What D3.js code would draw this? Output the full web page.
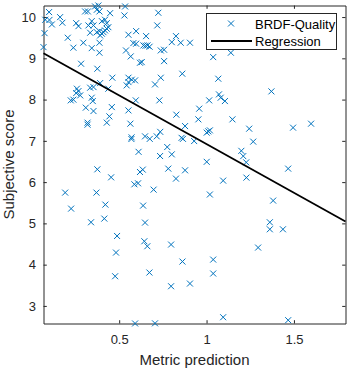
<!DOCTYPE html>
<html><head><meta charset="utf-8">
<script src="https://cdn.jsdelivr.net/npm/d3@7"></script>
<style>body{margin:0;background:#fff}svg{display:block}</style>
</head><body><svg id="c" width="351" height="370"></svg>
<script>
const metric = [
0.099,0.077,0.101,0.115,0.073,0.067,0.162,0.175,0.254,0.267,0.206,0.238,0.282,0.295,0.305,0.321,0.324,0.334,0.343,0.343,0.362,0.381,0.372,0.387,0.353,0.401,0.419,0.429,0.448,0.372,0.387,0.401,0.410,0.419,0.429,0.438,0.391,0.387,0.387,0.375,0.534,0.530,0.553,0.597,0.581,0.597,0.539,0.566,0.619,0.654,0.639,0.651,0.662,0.674,0.629,
0.724,0.718,0.738,0.757,0.757,0.825,0.801,0.852,0.905,0.861,0.738,0.705,0.730,1.038,1.139,1.067,1.071,1.081,1.105,1.015,0.958,0.953,0.827,0.877,1.148,1.019,1.010,1.001,0.857,0.865,0.929,0.735,0.715,0.675,0.648,0.611,0.775,0.734,0.801,1.001,1.199,1.210,1.227,1.371,1.244,1.495,1.598,1.267,
0.461,0.553,0.572,0.591,0.543,0.553,0.391,0.353,0.334,0.258,0.267,0.254,0.277,0.238,0.223,0.343,0.349,0.438,0.309,0.353,0.458,0.595,0.553,0.319,0.319,0.444,0.429,0.564,0.571,0.570,
0.375,0.454,0.619,0.635,0.587,0.608,0.191,0.370,0.421,0.637,0.225,0.415,0.339,0.648,0.488,0.644,0.661,0.482,0.477,0.591,0.705,0.781,0.877,0.825,1.095,0.697,1.019,0.797,0.862,1.038,1.038,0.673,0.797,0.905,1.095,1.228,1.467,1.381,1.362,1.362,1.437,1.295,1.467
];
const subjective = [
10.12,9.935,9.93,9.821,9.61,9.271,9.998,9.862,9.852,9.78,9.499,9.257,8.869,9.378,10.136,10.136,9.797,9.62,9.901,9.247,10.257,10.28,10.177,10.136,9.797,9.901,9.935,9.852,10.094,9.634,9.659,9.596,9.634,9.676,9.717,9.755,9.554,9.378,9.136,8.748,10.257,10.039,9.571,9.659,9.368,9.354,9.191,9.046,8.893,9.538,9.312,9.305,9.312,9.281,8.908,
10.104,9.797,9.191,9.208,8.932,9.538,9.392,9.378,9.378,8.627,8.53,8.368,7.981,9.029,9.136,8.506,8.126,8.046,7.964,7.981,7.78,7.521,7.634,7.358,7.521,7.254,7.23,7.199,7.073,7.048,6.995,7.218,7.109,7.048,7.109,6.734,6.85,6.632,6.673,6.492,6.758,6.63,6.479,8.199,7.295,7.32,7.416,6.981,
8.53,8.53,8.482,8.465,8.344,8.424,8.4,8.303,8.288,8.264,8.206,8.157,8.102,7.998,7.981,8.046,7.964,8.264,7.804,7.722,7.818,7.981,7.738,7.441,7.392,7.593,7.441,7.416,7.085,7.044,
6.31,6.116,6.245,6.303,5.947,5.971,5.746,5.746,5.455,5.431,5.358,5.116,5.027,5.019,4.695,4.567,4.446,4.293,3.719,2.575,2.578,6.327,6.286,6.085,6.036,5.818,5.7,4.487,4.075,4.123,3.785,3.809,3.477,3.542,2.726,6.109,6.327,5.552,5.027,4.857,4.857,4.414,2.654
];
const xTicks = [0.5, 1, 1.5];
const yTicks = [3, 4, 5, 6, 7, 8, 9, 10];
const xDomain = [0.067, 1.795];
const yDomain = [2.574, 10.28];
const regCoef = [9.28, -2.36]; // intercept, slope
const legendLabels = ["BRDF-Quality", "Regression"];
const xLabel = "Metric prediction";
const yLabel = "Subjective score";

const blue = "#0072BD", ink = "#262626";
const font = "'Liberation Sans', Arial, Helvetica, sans-serif";
const L = 43.5, R = 345.5, T = 5.5, B = 323.5;
const svg = d3.select("#c");
const x = d3.scaleLinear().domain(xDomain).range([L, R]);
const y = d3.scaleLinear().domain(yDomain).range([B, T]);

// axes
function styleAxis(g) {
  g.selectAll("path.domain").attr("stroke", ink).attr("stroke-width", 1);
  g.selectAll(".tick line").attr("stroke", ink).attr("stroke-width", 1);
  g.selectAll("text").attr("fill", ink).style("font-family", font).style("font-size", "13px");
}
svg.append("g").attr("transform", `translate(0,${B})`)
  .call(d3.axisBottom(x).tickValues(xTicks).tickFormat(d3.format("~g")).tickSizeInner(-3.3).tickSizeOuter(0).tickPadding(11))
  .call(styleAxis);
svg.append("g").attr("transform", `translate(0,${T})`)
  .call(d3.axisTop(x).tickValues(xTicks).tickFormat("").tickSizeInner(-3.3).tickSizeOuter(0))
  .call(styleAxis);
svg.append("g").attr("transform", `translate(${L},0)`)
  .call(d3.axisLeft(y).tickValues(yTicks).tickSizeInner(-3.3).tickSizeOuter(0).tickPadding(7.5))
  .call(styleAxis);
svg.append("g").attr("transform", `translate(${R},0)`)
  .call(d3.axisRight(y).tickValues(yTicks).tickFormat("").tickSizeInner(-3.3).tickSizeOuter(0))
  .call(styleAxis);

// points
const cross = "M-3,-3L3,3M-3,3L3,-3";
svg.append("g").selectAll("path").data(metric.map((m, i) => [m, subjective[i]])).join("path")
  .attr("d", cross).attr("transform", d => `translate(${x(d[0])},${y(d[1])})`)
  .attr("stroke", blue).attr("stroke-width", 1).attr("fill", "none");

// regression line
const reg = xDomain.map(v => [v, regCoef[0] + regCoef[1] * v]);
svg.append("path").attr("d", d3.line().x(d => x(d[0])).y(d => y(d[1]))(reg))
  .attr("stroke", "#000").attr("stroke-width", 1.8).attr("fill", "none");

// labels
svg.append("text").attr("x", (L + R) / 2).attr("y", 365).attr("text-anchor", "middle")
  .style("font-family", font).style("font-size", "15px").attr("fill", ink).text(xLabel);
svg.append("text").attr("transform", `translate(13.5,${(T + B) / 2}) rotate(-90)`).attr("text-anchor", "middle")
  .style("font-family", font).style("font-size", "15px").attr("fill", ink).text(yLabel);

// legend
const lg = svg.append("g");
lg.append("rect").attr("x", 206.5).attr("y", 13.5).attr("width", 130).attr("height", 36)
  .attr("fill", "#fff").attr("stroke", ink).attr("stroke-width", 1);
lg.append("path").attr("d", cross).attr("transform", "translate(231,23.5)")
  .attr("stroke", blue).attr("stroke-width", 1).attr("fill", "none");
lg.append("line").attr("x1", 211).attr("x2", 252).attr("y1", 41).attr("y2", 41)
  .attr("stroke", "#000").attr("stroke-width", 1.8);
lg.selectAll("text.lt").data(legendLabels).join("text").attr("class", "lt")
  .attr("x", 255).attr("y", (d, i) => 28.5 + i * 17)
  .style("font-family", font).style("font-size", "13px").attr("fill", "#000").text(d => d);
</script>
</body></html>
